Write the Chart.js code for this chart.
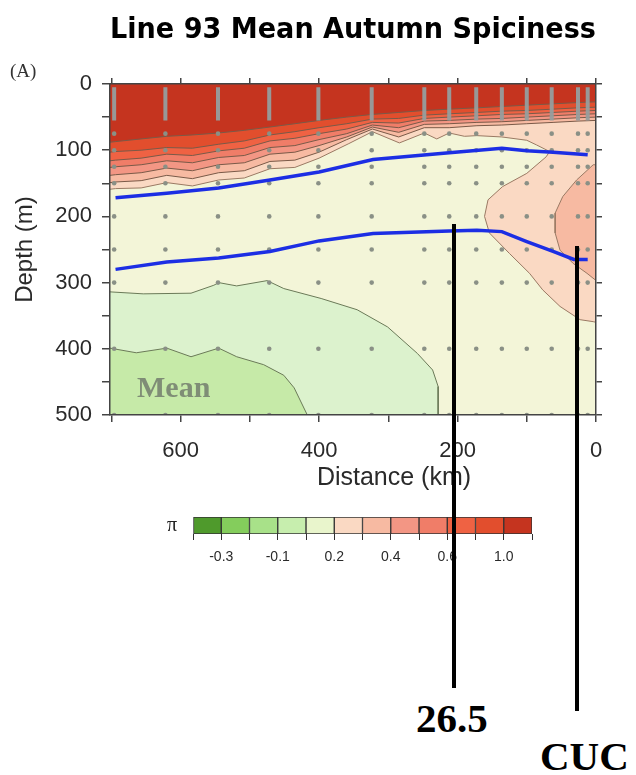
<!DOCTYPE html>
<html>
<head>
<meta charset="utf-8">
<style>
  html, body { margin:0; padding:0; background:#fff; }
  #page { position:relative; width:636px; height:775px; overflow:hidden; }
  #main { position:absolute; left:0; top:0; }
  #bar { position:absolute; left:140px; top:500px; }
  .txt { position:absolute; white-space:nowrap; }
  .stick { position:absolute; background:#000; width:4px; }
</style>
</head>
<body>
<div id="page">
  <canvas id="main" width="636" height="500"></canvas>
  <canvas id="bar" width="420" height="75"></canvas>
  <div class="txt" style="left:10px;top:60px;font:19px 'Liberation Serif',serif;color:#333">(A)</div>
  <div class="txt" style="left:137px;top:372px;font:bold 30px/30px 'Liberation Serif',serif;color:#7f8d76">Mean</div>
  <div class="txt" style="left:394px;top:464px;transform:translateX(-50%);font:25px/25px 'Liberation Sans',Arial,sans-serif;color:#2a2a2a">Distance (km)</div>
  <div class="stick" style="left:452px;top:224px;height:464px"></div>
  <div class="stick" style="left:575px;top:246px;height:465px"></div>
  <div class="txt" style="left:416px;top:698px;font:bold 41px/41px 'Liberation Serif',serif;color:#000">26.5</div>
  <div class="txt" style="left:540px;top:736px;font:bold 41px/41px 'Liberation Serif',serif;color:#000">CUC</div>
</div>
<script src="https://cdn.jsdelivr.net/npm/chart.js"></script>
<script>
// station positions (km offshore) and sample depths (m)
const stationKm = [696, 622, 546, 472, 401, 324, 248, 212, 173, 136, 100, 64, 26, 12];
const sampleDepths = [75, 100, 125, 150, 200, 250, 300, 400, 500];
const distanceTicks = [0, 100, 200, 300, 400, 500, 600, 700];
const distanceLabels = ['0', '', '200', '', '400', '', '600', ''];

// upper spiciness contours, shared distance grid
const topKm = [702, 694, 657, 620, 583, 545, 508, 471, 435, 400, 360, 323, 285, 248, 212, 172, 136, 100, 62, 26, 0];
const contour1Depth = [88, 87, 83, 79, 77, 74, 70, 65, 60, 55, 50, 46, 43, 40, 38, 36, 34, 32, 30, 28, 27];
const contour2Depth = [103, 102, 100, 96, 97, 91, 86, 77, 72, 66, 60, 53, 52, 47, 45, 43, 41, 40, 38, 36, 35];
const contour3Depth = [116, 115, 112, 106, 108, 101, 97, 86, 82, 75, 68, 58, 59, 52, 50, 48, 46, 45, 43, 41, 40];
const contour4Depth = [126, 125, 122, 116, 119, 111, 108, 96, 93, 84, 75, 62, 66, 56, 55, 53, 52, 50, 48, 46, 45];
const contour5Depth = [138, 137, 134, 127, 131, 122, 119, 106, 103, 93, 80, 65, 73, 61, 60, 58, 57, 55, 53, 51, 50];
const contour6Depth = [149, 148, 146, 138, 143, 134, 131, 117, 115, 103, 84, 68, 80, 66, 66, 63, 62, 60, 58, 56, 55];

// lowest upper contour, continuing down into the undercurrent pocket
const contour7Km = [702, 694, 657, 620, 583, 545, 508, 471, 435, 400, 357, 323, 284, 248, 230, 212, 190, 172, 136, 100, 86, 67, 72, 100, 135, 156, 161, 154, 125, 96, 77, 52, 23, 4, 0];
const contour7Depth = [159, 158, 157, 149, 154, 145, 142, 128, 126, 112, 90, 72, 89, 74, 83, 74, 79, 78, 80, 85, 92, 102, 110, 135, 155, 175, 200, 225, 256, 286, 311, 336, 356, 359, 360];

// inner pocket (core of the undercurrent)
const pocketKm = [0, 4, 28, 48, 59, 59, 52, 33, 13, 1, 0];
const pocketDepth = [122, 122, 145, 170, 195, 225, 251, 271, 286, 296, 297];

// deep (green) contours
const greenKm = [702, 654, 585, 552, 545, 519, 475, 451, 397, 345, 301, 258, 236, 228, 228];
const greenDepth = [314, 317, 316, 304, 300, 305, 297, 309, 324, 341, 367, 407, 432, 457, 500];
const meanKm = [702, 664, 620, 585, 545, 519, 480, 451, 436, 417];
const meanDepth = [399, 406, 399, 412, 399, 412, 424, 440, 459, 500];

// isopycnals (blue)
const iso1Km = [694, 620, 545, 471, 400, 322, 212, 136, 100, 62, 12];
const iso1Depth = [172, 165, 157, 145, 133, 114, 104, 97, 101, 103, 107];
const iso2Km = [694, 620, 545, 471, 400, 322, 212, 172, 136, 100, 62, 32, 12];
const iso2Depth = [280, 269, 263, 253, 237, 226, 222, 221, 223, 238, 253, 265, 265];

// colour bar
const levelColors = ['#4f9a2c', '#84cd5c', '#a8e189', '#c7eeae', '#e9f5cc', '#fad9c3', '#f7baa2', '#f39684', '#f07d68', '#ef6243', '#e24e2d', '#c5341f'];
const levelTickLabels = {1: '-0.3', 3: '-0.1', 5: '0.2', 7: '0.4', 9: '0.6', 11: '1.0'};

Chart.defaults.font.family = "'Liberation Sans', Arial, sans-serif";
Chart.defaults.color = '#2a2a2a';

const pts = (xs, ys) => xs.map((x, i) => ({x: x, y: ys[i]}));

const barPts = [];
stationKm.forEach(s => { barPts.push({x: s, y: 5}, {x: s, y: 55}, {x: s, y: null}); });
const dotPts = [];
stationKm.forEach(s => sampleDepths.forEach(d => dotPts.push({x: s, y: d})));

const lineBase = {pointRadius: 0, borderWidth: 1, tension: 0};
const topLine = '#7a5a48';

// first dataset is painted last (on top)
const datasets = [
  {...lineBase, data: pts(iso1Km, iso1Depth), borderColor: '#1c2ee4', borderWidth: 3.5},
  {...lineBase, data: pts(iso2Km, iso2Depth), borderColor: '#1c2ee4', borderWidth: 3.5},
  {data: dotPts, showLine: false, pointRadius: 2.3, pointBorderWidth: 0, pointBackgroundColor: '#8a9086'},
  {...lineBase, data: barPts, borderColor: 'rgba(150,158,158,0.95)', borderWidth: 4, borderCapStyle: 'butt'},
  {...lineBase, data: pts(topKm, contour1Depth), borderColor: topLine, fill: {value: 0}, backgroundColor: levelColors[11]},
  {...lineBase, data: pts(topKm, contour2Depth), borderColor: topLine, fill: {value: 0}, backgroundColor: levelColors[10]},
  {...lineBase, data: pts(topKm, contour3Depth), borderColor: topLine, fill: {value: 0}, backgroundColor: levelColors[9]},
  {...lineBase, data: pts(topKm, contour4Depth), borderColor: topLine, fill: {value: 0}, backgroundColor: levelColors[8]},
  {...lineBase, data: pts(topKm, contour5Depth), borderColor: topLine, fill: {value: 0}, backgroundColor: levelColors[7]},
  {...lineBase, data: pts(topKm, contour6Depth), borderColor: topLine, fill: {value: 0}, backgroundColor: levelColors[6]},
  {...lineBase, data: pts(pocketKm, pocketDepth), borderColor: '#9a7a64', fill: 'shape', backgroundColor: levelColors[6]},
  {...lineBase, data: pts(contour7Km, contour7Depth), borderColor: '#9a7a64', fill: {value: 0}, backgroundColor: levelColors[5]},
  {...lineBase, data: pts(meanKm, meanDepth), borderColor: '#6b7a58', fill: {value: 500}, backgroundColor: '#c6eaa8'},
  {...lineBase, data: pts(greenKm, greenDepth), borderColor: '#6b7a58', fill: {value: 500}, backgroundColor: '#dcf2cd'},
  {...lineBase, data: pts([702, 0], [500, 500]), borderWidth: 0, borderColor: 'transparent', fill: {value: 0}, backgroundColor: '#f3f5d8'}
];

const axisColor = '#444';
new Chart(document.getElementById('main'), {
  type: 'line',
  data: {datasets: datasets},
  options: {
    responsive: false,
    animation: false,
    layout: {padding: {top: 0, left: 0, right: 32, bottom: 15}},
    plugins: {
      legend: {display: false},
      tooltip: {enabled: false},
      title: {
        display: true,
        text: 'Line 93 Mean Autumn Spiciness',
        fullSize: false,
        color: '#000',
        font: {family: "'Comic Sans MS', 'DejaVu Sans', sans-serif", size: 27.5, weight: 'bold'},
        padding: {top: 14, bottom: 29}
      }
    },
    scales: {
      x: {
        type: 'linear', position: 'bottom', min: 0, max: 702, reverse: true,
        afterBuildTicks: s => { s.ticks = distanceTicks.map(v => ({value: v})); },
        afterTickToLabelConversion: s => { s.ticks.forEach((t, i) => { t.label = distanceLabels[i]; }); },
        ticks: {autoSkip: false, maxRotation: 0, padding: 16, font: {size: 22}},
        grid: {drawOnChartArea: false, tickLength: 7, color: axisColor, lineWidth: 1.5},
        border: {color: axisColor, width: 1.5, z: 1},
        afterFit: s => { s.height = 70; }
      },
      x2: {
        type: 'linear', position: 'top', min: 0, max: 702, reverse: true,
        afterBuildTicks: s => { s.ticks = distanceTicks.map(v => ({value: v})); },
        ticks: {display: false},
        grid: {drawOnChartArea: false, tickLength: 6, color: axisColor, lineWidth: 1.5},
        border: {color: axisColor, width: 1.5, z: 1},
        afterFit: s => { s.height = 8; }
      },
      y: {
        type: 'linear', position: 'left', min: 0, max: 500, reverse: true,
        ticks: {stepSize: 50, padding: 10, font: {size: 22}, callback: v => (v % 100 === 0 ? String(v) : '')},
        grid: {drawOnChartArea: false, tickLength: 8, color: axisColor, lineWidth: 1.5},
        border: {color: axisColor, width: 1.5, z: 1},
        title: {display: true, text: 'Depth (m)', font: {size: 24}, padding: {top: 11, bottom: 0}},
        afterFit: s => { s.width = 110; }
      },
      y2: {
        type: 'linear', position: 'right', min: 0, max: 500, reverse: true,
        ticks: {stepSize: 50, display: false},
        grid: {drawOnChartArea: false, tickLength: 6, color: axisColor, lineWidth: 1.5},
        border: {color: axisColor, width: 1.5, z: 1},
        afterFit: s => { s.width = 8; }
      }
    }
  }
});

new Chart(document.getElementById('bar'), {
  type: 'bar',
  data: {
    labels: ['π'],
    datasets: levelColors.map(c => ({
      data: [1], backgroundColor: c, borderColor: '#333', borderWidth: 1,
      borderSkipped: false, barPercentage: 1, categoryPercentage: 1
    }))
  },
  options: {
    indexAxis: 'y',
    responsive: false,
    animation: false,
    layout: {padding: {top: 17, left: 0, right: 28, bottom: 0}},
    plugins: {legend: {display: false}, tooltip: {enabled: false}},
    scales: {
      x: {
        stacked: true, min: 0, max: 12,
        ticks: {stepSize: 1, autoSkip: false, maxRotation: 0, padding: 9, font: {size: 14},
                callback: v => levelTickLabels[v] || ''},
        grid: {drawOnChartArea: false, tickLength: 6, color: '#333'},
        border: {display: false},
        afterFit: s => { s.height = 41; }
      },
      y: {
        stacked: true,
        ticks: {padding: 8, color: '#222', font: {family: "'Liberation Serif', serif", size: 20, lineHeight: 0.4}},
        grid: {display: false},
        border: {display: false},
        afterFit: s => { s.width = 53; }
      }
    }
  }
});
</script>
</body>
</html>
